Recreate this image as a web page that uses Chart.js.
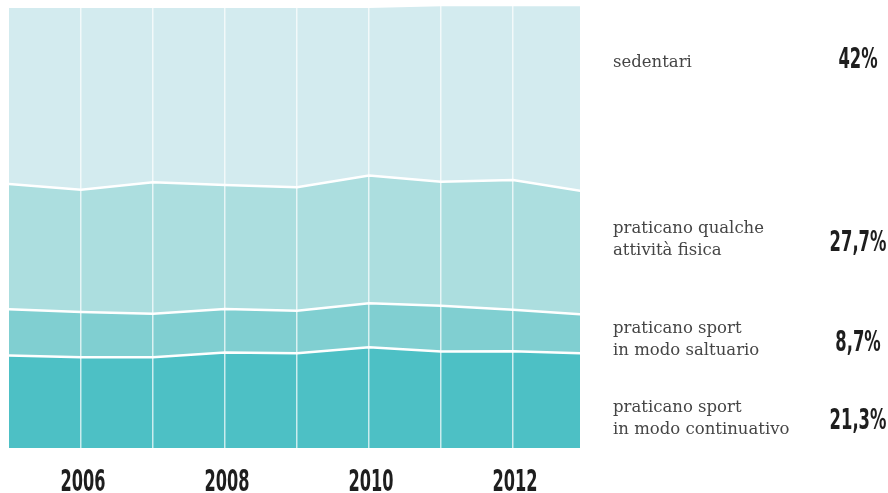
<!DOCTYPE html>
<html lang="it">
<head>
<meta charset="utf-8">
<title>Pratica sportiva in Italia</title>
<script src="https://cdn.jsdelivr.net/npm/chart.js@4/dist/chart.umd.min.js"></script>
<style>
  html, body { margin: 0; padding: 0; background: #ffffff; }
  #wrap { position: relative; width: 888px; height: 493px; }
</style>
</head>
<body>
<div id="wrap"><canvas id="chart" width="888" height="493"></canvas></div>
<script>
// Anni rilevati
const years = [2005, 2006, 2007, 2008, 2009, 2010, 2011, 2012, 2013];
// Quote percentuali per gruppo (dal basso verso l'alto)
const continuativo = [20.8, 20.4, 20.4, 21.5, 21.3, 22.7, 21.7, 21.8, 21.3];
const saltuario    = [10.4, 10.2, 9.8, 9.8, 9.6, 9.9, 10.3, 9.3, 8.7];
const qualche      = [28.2, 27.5, 29.6, 27.9, 27.8, 28.7, 27.9, 29.2, 27.7];
const sedentari    = [39.9, 41.2, 39.5, 40.1, 40.6, 38.0, 39.8, 39.4, 42.0];
// Linee verticali e anni etichettati sull'asse
const gridYears  = [2006, 2007, 2008, 2009, 2010, 2011, 2012];
const labelYears = [2006, 2008, 2010, 2012];
// Testi della legenda a destra
const seriesNames = [
  ["sedentari"],
  ["praticano qualche", "attività fisica"],
  ["praticano sport", "in modo saltuario"],
  ["praticano sport", "in modo continuativo"]
];

const colors = ["#4dc0c5", "#80cfd1", "#acdedf", "#d3ebef"];
const stackSeries = [continuativo, saltuario, qualche, sedentari];

const toPoints = arr => arr.map((v, i) => ({ x: years[i], y: v }));
const fmtPct = v => String(v).replace('.', ',') + '%';

const datasets = stackSeries.map((arr, i) => ({
  data: toPoints(arr),
  backgroundColor: colors[i],
  borderColor: '#ffffff',
  borderWidth: 2.5,
  pointRadius: 0,
  tension: 0,
  fill: i === 0 ? 'origin' : '-1',
  clip: 0
}));

const CONDENSED = '"Liberation Sans Narrow", "DejaVu Sans Condensed", "Roboto", sans-serif';
const SERIF = '"DejaVu Serif", "Liberation Serif", serif';

function drawCondensed(ctx, text, cx, baseline, size, squeeze) {
  ctx.save();
  ctx.translate(cx, baseline);
  ctx.scale(squeeze, 1);
  ctx.font = 'bold ' + size + 'px ' + CONDENSED;
  ctx.textAlign = 'center';
  ctx.textBaseline = 'alphabetic';
  ctx.fillStyle = '#1e1e1e';
  ctx.fillText(text, 0, 0);
  ctx.restore();
}

// Etichette degli anni e legenda con i valori finali
const textPlugin = {
  id: 'textLayer',
  afterDraw(chart) {
    const ctx = chart.ctx;
    const xs = chart.scales.x;
    labelYears.forEach(y => {
      drawCondensed(ctx, String(y), xs.getPixelForValue(y) + 2, 491, 30, 0.6);
    });

    // legenda: righe di testo (dall'alto: sedentari ... continuativo)
    const textBaselines = [[67], [233, 255], [333, 355], [412, 434]];
    const pctBaselines = [68, 251, 351, 429];
    const lastValues = [sedentari, qualche, saltuario, continuativo].map(a => a[a.length - 1]);
    ctx.save();
    ctx.font = '16.5px ' + SERIF;
    ctx.fillStyle = '#454545';
    ctx.textAlign = 'left';
    ctx.textBaseline = 'alphabetic';
    seriesNames.forEach((lines, i) => {
      lines.forEach((t, j) => ctx.fillText(t, 613, textBaselines[i][j]));
    });
    ctx.restore();
    lastValues.forEach((v, i) => {
      drawCondensed(ctx, fmtPct(v), 858, pctBaselines[i], 28, 0.65);
    });
  }
};

new Chart(document.getElementById('chart'), {
  type: 'line',
  data: { datasets },
  options: {
    responsive: false,
    animation: false,
    devicePixelRatio: 1,
    layout: { padding: { left: 9, right: 308, top: 5, bottom: 45 } },
    plugins: { legend: { display: false }, tooltip: { enabled: false } },
    scales: {
      x: {
        type: 'linear',
        min: 2005,
        max: 2012.93,
        afterBuildTicks: scale => { scale.ticks = gridYears.map(v => ({ value: v })); },
        afterFit: scale => { scale.height = 0; },
        ticks: { display: false },
        grid: { color: 'rgba(255,255,255,0.7)', lineWidth: 1.5, drawTicks: false, z: 1 },
        border: { display: false }
      },
      y: {
        stacked: true,
        display: false,
        min: 0,
        max: 99.7
      }
    }
  },
  plugins: [textPlugin]
});
</script>
</body>
</html>
